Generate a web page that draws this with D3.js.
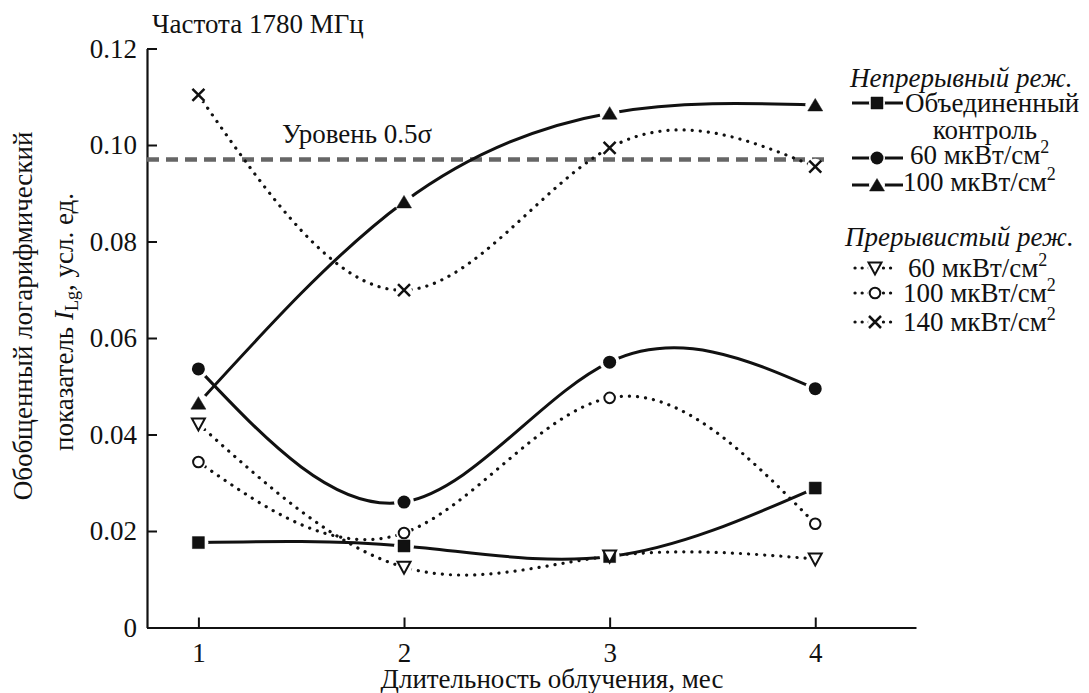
<!DOCTYPE html>
<html>
<head>
<meta charset="utf-8">
<script src="https://cdn.jsdelivr.net/npm/d3@7"></script>
<style>
  body { margin: 0; background: #fff; }
  svg text { font-family: "Liberation Serif", "Times New Roman", serif; fill: #111; }
</style>
</head>
<body>
<svg id="chart" width="1089" height="693" font-family="Liberation Serif, serif"></svg>
<script>
// months of exposure
const months = [1, 2, 3, 4];
// continuous mode
const control = [0.0176, 0.0169, 0.0147, 0.0289];
const cont60 = [0.0536, 0.0260, 0.0550, 0.0495];
const cont100 = [0.0465, 0.0882, 0.1066, 0.1083];
// pulsed mode
const pulse60 = [0.0422, 0.0125, 0.0148, 0.0142];
const pulse100 = [0.0343, 0.0196, 0.0476, 0.0215];
const pulse140 = [0.1104, 0.0699, 0.0994, 0.0955];
// 0.5 sigma level
const levelValue = 0.097;
const levelRange = [0.75, 4.06];

const yTicks = [0, 0.02, 0.04, 0.06, 0.08, 0.10, 0.12];
const xTicks = [1, 2, 3, 4];

const FS = 27;

const series = [
  {name: "control", values: control, dotted: false, marker: "square"},
  {name: "c60", values: cont60, dotted: false, marker: "circle"},
  {name: "c100", values: cont100, dotted: false, marker: "triangle"},
  {name: "p60", values: pulse60, dotted: true, marker: "tridown"},
  {name: "p100", values: pulse100, dotted: true, marker: "ocircle"},
  {name: "p140", values: pulse140, dotted: true, marker: "cross"}
];

const svg = d3.select("#chart");

const x = d3.scaleLinear().domain([0.75, 4.49]).range([147, 916]);
const y = d3.scaleLinear().domain([0, 0.12]).range([627.5, 48.5]);

// axes
const xAxis = d3.axisBottom(x).tickValues(xTicks).tickSize(-10).tickSizeOuter(0).tickPadding(15)
  .tickFormat(d3.format("d"));
const yAxis = d3.axisLeft(y).tickValues(yTicks).tickSize(-10).tickSizeOuter(0).tickPadding(10)
  .tickFormat(d => d === 0 ? "0" : d3.format(".2f")(d));

const gx = svg.append("g").attr("transform", `translate(0,${y(0)})`).call(xAxis);
const gy = svg.append("g").attr("transform", `translate(${x(0.75)},0)`).call(yAxis);
[gx, gy].forEach(g => {
  g.attr("font-family", null).attr("font-size", null);
  g.select(".domain").attr("stroke", "#111").attr("stroke-width", 2.2);
  g.selectAll(".tick line").attr("stroke", "#111").attr("stroke-width", 2);
  g.selectAll(".tick text").attr("font-size", FS).attr("fill", "#111");
});
gx.selectAll(".tick text").attr("dy", "0.71em");

// 0.5 sigma line
svg.append("line")
  .attr("x1", x(levelRange[0])).attr("x2", x(levelRange[1]))
  .attr("y1", y(levelValue)).attr("y2", y(levelValue))
  .attr("stroke", "#666").attr("stroke-width", 4.5)
  .attr("stroke-dasharray", "12 7");

svg.append("text").attr("x", 282).attr("y", 143).attr("font-size", FS).text("Уровень 0.5σ");

const line = d3.line().x((d, i) => x(months[i])).y(d => y(d)).curve(d3.curveNatural);

// data lines
svg.append("g").selectAll("path").data(series).join("path")
  .attr("d", s => line(s.values))
  .attr("fill", "none").attr("stroke", "#111")
  .attr("stroke-width", s => s.dotted ? 3.2 : 3)
  .attr("stroke-linecap", s => s.dotted ? "round" : "butt")
  .attr("stroke-dasharray", s => s.dotted ? "0.1 8" : null);

function markerPath(type) {
  switch (type) {
    case "square": return "M-6,-6H6V6H-6Z";
    case "triangle": return "M0,-6.5L7.5,6H-7.5Z";
    case "tridown": return "M-6.5,-5.5H6.5L0,6.5Z";
    case "cross": return "M-6,-6L6,6M6,-6L-6,6";
    default: return null;
  }
}

function drawMarker(g, type, cx, cy) {
  if (type === "circle") {
    g.append("circle").attr("cx", cx).attr("cy", cy).attr("r", 6.5).attr("fill", "#111");
  } else if (type === "ocircle") {
    g.append("circle").attr("cx", cx).attr("cy", cy).attr("r", 5.3)
      .attr("fill", "#fff").attr("stroke", "#111").attr("stroke-width", 2);
  } else {
    const filled = type === "square" || type === "triangle";
    g.append("path").attr("d", markerPath(type))
      .attr("transform", `translate(${cx},${cy})`)
      .attr("fill", filled ? "#111" : (type === "cross" ? "none" : "#fff"))
      .attr("stroke", "#111")
      .attr("stroke-width", filled ? 0.5 : (type === "cross" ? 2.5 : 2));
  }
}

// halos so lines stop short of markers
const halo = svg.append("g");
series.forEach(s => s.values.forEach((v, i) => {
  halo.append("circle").attr("cx", x(months[i])).attr("cy", y(v)).attr("r", s.dotted ? 8 : 10).attr("fill", "#fff");
}));

const marks = svg.append("g");
series.forEach(s => s.values.forEach((v, i) => drawMarker(marks, s.marker, x(months[i]), y(v))));

// titles
svg.append("text").attr("x", 152).attr("y", 33).attr("font-size", FS).text("Частота 1780 МГц");

svg.append("text").attr("x", 552).attr("y", 688).attr("font-size", FS)
  .attr("text-anchor", "middle").text("Длительность облучения, мес");

svg.append("text").attr("transform", "translate(32,316) rotate(-90)")
  .attr("font-size", FS).attr("text-anchor", "middle").text("Обобщенный логарифмический");
const yl2 = svg.append("text").attr("transform", "translate(73,322) rotate(-90)")
  .attr("font-size", FS).attr("text-anchor", "middle");
yl2.append("tspan").text("показатель ");
yl2.append("tspan").attr("font-style", "italic").text("I");
yl2.append("tspan").attr("font-size", 18).attr("dy", 5).text("Lg");
yl2.append("tspan").attr("dy", -5).text(", усл. ед.");

// legend
const legendHeads = [
  {text: "Непрерывный реж.", x: 850, y: 87},
  {text: "Прерывистый реж.", x: 845, y: 246}
];
const legendItems = [
  {s: 0, label: "Объединенный", ly: 103, tx: 905, ty: 112, sup: false},
  {s: 1, label: "60 мкВт/см", ly: 158, tx: 910, ty: 164, sup: true},
  {s: 2, label: "100 мкВт/см", ly: 185, tx: 903, ty: 191, sup: true},
  {s: 3, label: "60 мкВт/см", ly: 268, tx: 908, ty: 277, sup: true},
  {s: 4, label: "100 мкВт/см", ly: 293, tx: 903, ty: 302, sup: true},
  {s: 5, label: "140 мкВт/см", ly: 322, tx: 903, ty: 331, sup: true}
];

const lg = svg.append("g");
legendHeads.forEach(h => lg.append("text").attr("x", h.x).attr("y", h.y)
  .attr("font-size", FS).attr("font-style", "italic").text(h.text));

legendItems.forEach(it => {
  const s = series[it.s];
  const x0 = s.dotted ? 855 : 852, x1 = s.dotted ? 894 : 903, mx = s.dotted ? 875 : 877;
  lg.append("line").attr("x1", x0).attr("x2", x1).attr("y1", it.ly).attr("y2", it.ly)
    .attr("stroke", "#111").attr("stroke-width", s.dotted ? 3.2 : 3)
    .attr("stroke-linecap", s.dotted ? "round" : "butt")
    .attr("stroke-dasharray", s.dotted ? "0.1 7" : null);
  lg.append("circle").attr("cx", mx).attr("cy", it.ly).attr("r", s.dotted ? 7 : 8).attr("fill", "#fff");
  drawMarker(lg, s.marker, mx, it.ly);
  const t = lg.append("text").attr("x", it.tx).attr("y", it.ty).attr("font-size", FS).text(it.label);
  if (it.sup) t.append("tspan").attr("font-size", 18).attr("dy", -11).text("2");
});
lg.append("text").attr("x", 985).attr("y", 139).attr("font-size", FS)
  .attr("text-anchor", "middle").text("контроль");
</script>
</body>
</html>
